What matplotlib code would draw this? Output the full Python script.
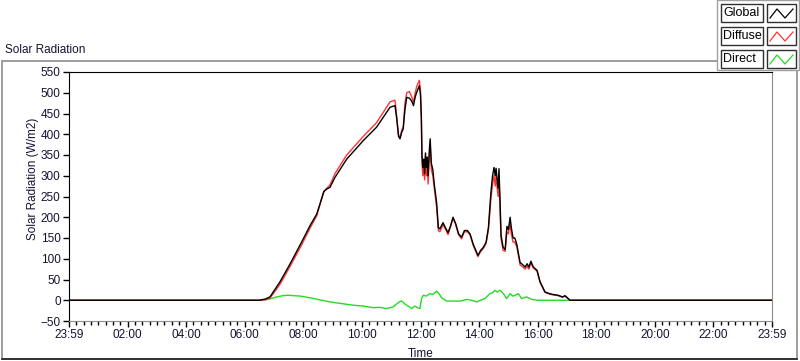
import matplotlib

matplotlib.use("Agg")
import matplotlib.pyplot as plt
from matplotlib.patches import Rectangle
from matplotlib.lines import Line2D

# hours since midnight
time_h = [0, 6.5, 6.7, 6.86, 7.2, 7.55, 7.94, 8.23, 8.46, 8.7, 8.8, 8.91, 9.08, 9.48, 10.05, 10.5,
          10.96, 11.13, 11.19, 11.25, 11.3, 11.36, 11.41, 11.47, 11.53, 11.62, 11.7, 11.76, 11.82,
          11.87, 11.96, 12.0, 12.03, 12.05, 12.08, 12.11, 12.14, 12.17, 12.2, 12.23, 12.26, 12.3,
          12.33, 12.37, 12.42, 12.47, 12.55, 12.61, 12.66, 12.77, 12.85, 12.94, 13.03, 13.11, 13.2,
          13.3, 13.4, 13.5, 13.6, 13.69, 13.8, 13.96, 14.05, 14.15, 14.24, 14.32, 14.4, 14.46,
          14.51, 14.55, 14.58, 14.61, 14.65, 14.68, 14.72, 14.75, 14.82, 14.89, 14.95, 15.0, 15.06,
          15.1, 15.16, 15.22, 15.29, 15.35, 15.4, 15.5, 15.57, 15.64, 15.7, 15.77, 15.85, 15.98,
          16.08, 16.25, 16.4, 16.52, 16.7, 16.85, 16.93, 17.0, 17.1, 24]
global_rad = [0, 0, 3, 8, 44, 88, 140, 180, 208, 262, 268, 272, 296, 340, 385, 417,
              465, 469, 437, 395, 389, 405, 413, 460, 489, 487, 480, 469, 490,
              501, 517, 495, 440, 350, 320, 340, 305, 355, 320, 345, 300, 360,
              389, 330, 315, 280, 235, 175, 172, 187, 175, 163, 180, 200, 185,
              160, 152, 168, 168, 160, 135, 108, 120, 128, 140, 176, 257, 300,
              320, 300, 318, 296, 270, 317, 230, 156, 128, 122, 178, 170, 200,
              175, 150, 150, 134, 110, 91, 85, 80, 88, 80, 94, 80, 72,
              45, 20, 16, 14, 12, 8, 11, 7, 0, 0]
diffuse_rad = [0, 0, 1, 5, 38, 82, 133, 174, 204, 262, 270, 278, 305, 350, 395, 428,
               478, 482, 440, 398, 392, 410, 418, 475, 500, 503, 490, 478, 500,
               515, 530, 505, 430, 330, 300, 330, 290, 345, 300, 330, 280, 345,
               375, 315, 300, 270, 225, 168, 165, 182, 172, 158, 178, 198, 182,
               158, 148, 165, 165, 158, 132, 105, 117, 125, 137, 170, 240, 280,
               300, 275, 300, 275, 250, 295, 210, 148, 120, 118, 165, 160, 185,
               160, 140, 140, 128, 105, 85, 80, 75, 82, 75, 90, 78, 70,
               43, 19, 15, 13, 11, 7, 10, 6, 0, 0]

direct_time_h = [0, 6.5, 6.8, 7.09, 7.3, 7.49, 7.89, 8.23, 8.5, 8.91, 9.3, 9.71, 10.05, 10.39, 10.6,
                 10.84, 11.07, 11.2, 11.3, 11.36, 11.45, 11.53, 11.62, 11.7, 11.8, 11.9, 11.98,
                 12.04, 12.1, 12.2, 12.32, 12.42, 12.55, 12.63, 12.72, 12.89, 13.1, 13.35, 13.58,
                 13.75, 13.92, 14.05, 14.2, 14.37, 14.45, 14.54, 14.62, 14.71, 14.83, 14.94, 15.06,
                 15.15, 15.23, 15.34, 15.45, 15.62, 15.8, 16.0, 16.2, 17.1, 24]
direct_rad = [0, 0, 2, 8, 11, 12, 10, 6, 2, -4, -8, -12, -14, -18, -17,
              -20, -16, -8, -3, -2, -8, -12, -16, -20, -14, -18, -20,
              5, 12, 10, 16, 14, 22, 16, 6, -2, -2, -2, 2,
              0, -4, 0, 4, 16, 18, 24, 20, 24, 16, 4, 16,
              10, 12, 16, 4, 8, 2, 0, 0, 0, 0]

series_names = ["Global", "Diffuse", "Direct"]
series_colors = ["#000000", "#ff3333", "#22dd22"]

W, H = 800, 361
FONT = "Liberation Sans"
TXT = "#141432"


def px(x, y):
    return x / W, 1 - y / H


fig = plt.figure(figsize=(8, 3.61), dpi=100)

# outer frame
x0, y1 = px(2, 359)
x1, y0 = px(797, 61)
fig.patches.append(Rectangle((x0, y1), x1 - x0, y0 - y1, transform=fig.transFigure,
                             fill=False, edgecolor="#8c8c8c", lw=1.2))
fig.add_artist(Line2D([x0, x1], [y1, y1], transform=fig.transFigure, color="#202020", lw=1.2))

fig.text(5 / W, 1 - 50 / H, "Solar Radiation", fontsize=8.5, family=FONT, color=TXT, va="center")

ax = fig.add_axes([69 / W, 1 - 321 / H, (772 - 69) / W, (321 - 72) / H])
ax.plot(direct_time_h, direct_rad, color=series_colors[2], lw=1)
ax.plot(time_h, diffuse_rad, color=series_colors[1], lw=1)
ax.plot(time_h, global_rad, color=series_colors[0], lw=1)

ax.set_xlim(0, 24)
ax.set_ylim(-50, 550)
ax.set_yticks(range(-50, 551, 50))
ax.set_xticks(range(0, 25, 2))
ax.set_xticks([i * 0.25 for i in range(97)], minor=True)
xlabels = ["23:59"] + [f"{h:02d}:00" for h in range(2, 24, 2)] + ["23:59"]
ax.set_xticklabels(xlabels)
ax.tick_params(axis="both", which="major", length=4, width=1, color="#000000",
               labelsize=8.5, labelcolor=TXT, pad=2)
ax.tick_params(axis="x", which="minor", length=3, width=1, color="#000000")
for lab in ax.get_xticklabels() + ax.get_yticklabels():
    lab.set_family(FONT)

for side in ["left", "top"]:
    ax.spines[side].set_color("#000000")
for side in ["right", "bottom"]:
    ax.spines[side].set_color("#8c8c8c")

ax.set_ylabel("Solar Radiation (W/m2)", fontsize=8.5, family=FONT, color=TXT)
ax.yaxis.set_label_coords(-0.042, 0.57)
ax.set_xlabel("Time", fontsize=8.5, family=FONT, color=TXT, labelpad=5)

# legend panel (top right)
lx0, ly1 = px(717, 70)
lx1, ly0 = px(799, 0)
fig.patches.append(Rectangle((lx0, ly1), lx1 - lx0, ly0 - ly1, transform=fig.transFigure,
                             facecolor="white", edgecolor="#a0a0a0", lw=1, zorder=5))
row_tops = [4, 27, 50]
for name, color, top in zip(series_names, series_colors, row_tops):
    bx0, by1 = px(721, top + 18)
    bx1, by0 = px(763, top)
    fig.patches.append(Rectangle((bx0, by1), bx1 - bx0, by0 - by1, transform=fig.transFigure,
                                 facecolor="white", edgecolor="#303030", lw=1, zorder=6))
    fig.text(bx0 + 2 / W, (by0 + by1) / 2, name, fontsize=9, family=FONT, color="#000000",
             va="center", zorder=7)
    sx0, sy1 = px(767, top + 18)
    sx1, sy0 = px(796, top)
    fig.patches.append(Rectangle((sx0, sy1), sx1 - sx0, sy0 - sy1, transform=fig.transFigure,
                                 facecolor="white", edgecolor="#303030", lw=1, zorder=6))
    zx = [770, 777, 785, 793]
    zy = [top + 14, top + 5, top + 14, top + 5]
    fig.add_artist(Line2D([x / W for x in zx], [1 - y / H for y in zy], transform=fig.transFigure,
                          color=color, lw=0.9, zorder=7))

fig.savefig("out.png", dpi=100)
plt.close(fig)
